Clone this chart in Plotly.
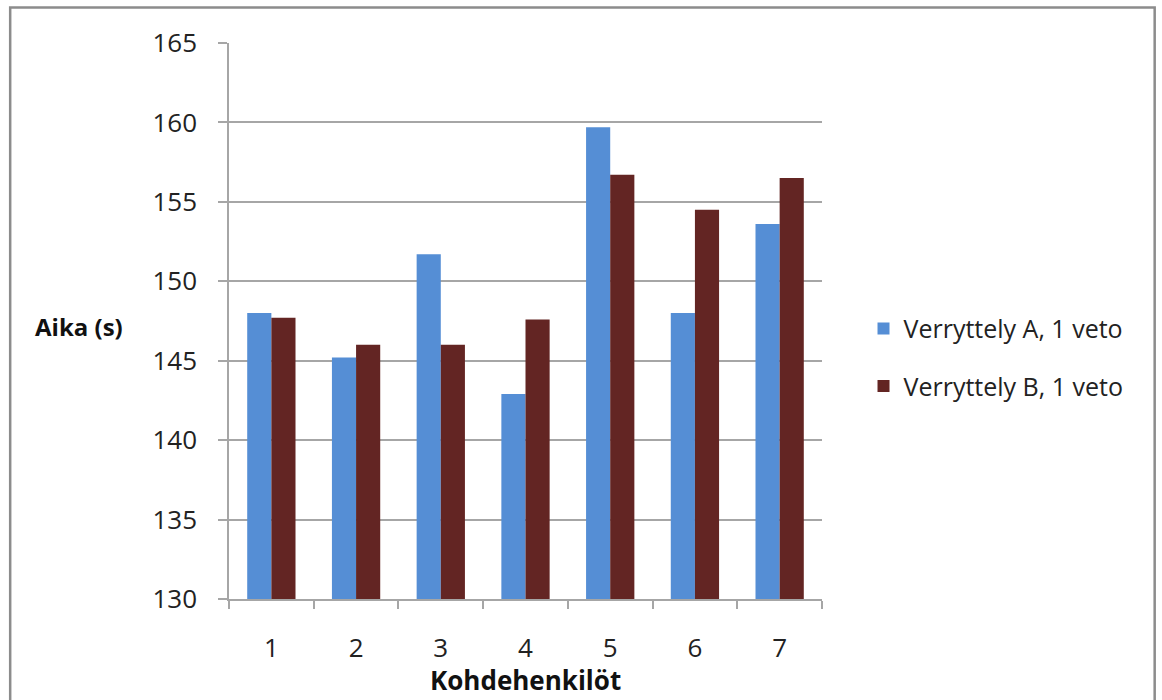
import plotly.graph_objects as go

# Test subjects and the measured times (s) for the two warm-ups
subjects = ["1", "2", "3", "4", "5", "6", "7"]
warmup_a = [148.0, 145.2, 151.7, 142.9, 159.7, 148.0, 153.6]
warmup_b = [147.7, 146.0, 146.0, 147.6, 156.7, 154.5, 156.5]
series_names = ["Verryttely A, 1 veto", "Verryttely B, 1 veto"]
y_ticks = [130, 135, 140, 145, 150, 155, 160, 165]

FONT = "Open Sans, sans-serif"
GRID = "#A6A6A6"

fig = go.Figure()
fig.add_trace(go.Bar(x=subjects, y=warmup_a, name=series_names[0],
                     marker=dict(color="#558ED5", line=dict(width=0)),
                     legendgroup="a"))
fig.add_trace(go.Bar(x=subjects, y=warmup_b, name=series_names[1],
                     marker=dict(color="#632523", line=dict(width=0)),
                     legendgroup="b"))

fig.update_layout(
    width=1162, height=700,
    margin=dict(l=229, r=340, t=43, b=101, autoexpand=False),
    paper_bgcolor="white", plot_bgcolor="white",
    barmode="group", bargap=0.43, bargroupgap=0,
    font=dict(family=FONT, size=26, color="#222222"),
    showlegend=True,
    legend=dict(x=1.07, y=0.435, xanchor="left", yanchor="middle",
                font=dict(family=FONT, size=25, color="#222222"),
                tracegroupgap=22, itemwidth=30, bgcolor="rgba(0,0,0,0)"),
    xaxis=dict(type="category", tickson="boundaries", ticks="outside",
               ticklen=8, tickcolor=GRID, tickwidth=1.5,
               showline=True, linecolor=GRID, linewidth=1.5,
               showgrid=False, ticklabelstandoff=25,
               tickfont=dict(family=FONT, size=26, color="#222222")),
    yaxis=dict(range=[130, 165], tickvals=y_ticks, ticks="outside",
               ticklen=9, tickcolor=GRID, tickwidth=1.5,
               showline=True, linecolor=GRID, linewidth=1.5,
               showgrid=True, gridcolor=GRID, gridwidth=1.5,
               zeroline=False, ticklabelstandoff=16,
               tickfont=dict(family=FONT, size=26, color="#222222")),
    annotations=[
        dict(text="<b>Aika (s)</b>", xref="paper", yref="paper",
             x=-0.33, y=0.49, xanchor="left", yanchor="middle",
             showarrow=False, font=dict(family=FONT, size=24, color="#111111")),
        dict(text="<b>Kohdehenkilöt</b>", xref="paper", yref="paper",
             x=0.5, y=-0.145, xanchor="center", yanchor="middle",
             showarrow=False, font=dict(family=FONT, size=26, color="#111111")),
    ],
    shapes=[
        dict(type="rect", xref="paper", yref="paper",
             x0=-0.369, x1=1.561, y0=-0.3, y1=1.064,
             line=dict(color="#8C8C8C", width=2.5), fillcolor="rgba(0,0,0,0)",
             layer="below"),
    ],
)

fig.write_html("out.html")
